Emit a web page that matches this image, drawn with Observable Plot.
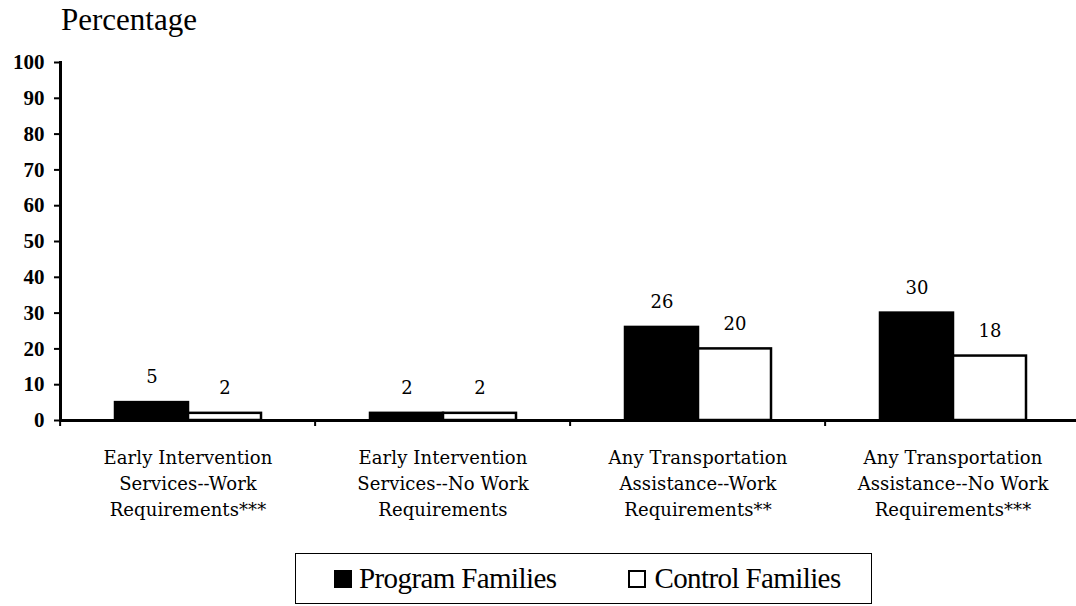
<!DOCTYPE html>
<html>
<head>
<meta charset="utf-8">
<script src="https://cdn.jsdelivr.net/npm/d3@7"></script>
<script src="https://cdn.jsdelivr.net/npm/@observablehq/plot@0.6"></script>
<style>
  html, body { margin: 0; padding: 0; background: #fff; color: #000; overflow: hidden; }
  #wrap { position: relative; width: 1076px; height: 606px; }
  #title { position: absolute; left: 61px; top: 4px; font-family: "Liberation Serif", serif; font-size: 31px; line-height: 31px; white-space: nowrap; }
  #chart { position: absolute; left: 0; top: 0; }
  #legend { position: absolute; left: 295px; top: 553px; width: 575px; height: 49px; border: 1.5px solid #000;
            display: flex; align-items: center; font-family: "Liberation Serif", serif; font-size: 29px; letter-spacing: -0.6px; }
  .sw { width: 18px; height: 18px; box-sizing: border-box; flex: none; }
  .catlab { letter-spacing: 0.1px; }
</style>
</head>
<body>
<div id="wrap">
  <div id="chart"></div>
  <div id="title">Percentage</div>
  <div id="legend"></div>
</div>
<script>
const categories = [
  "Early Intervention\nServices--Work\nRequirements***",
  "Early Intervention\nServices--No Work\nRequirements",
  "Any Transportation\nAssistance--Work\nRequirements**",
  "Any Transportation\nAssistance--No Work\nRequirements***"
];
const series = ["Program Families", "Control Families"];
const program = [5, 2, 26, 30];
const control = [2, 2, 20, 18];
const yTicks = [0, 10, 20, 30, 40, 50, 60, 70, 80, 90, 100];
const seriesColors = ["#000000", "#ffffff"];

const rows = [];
categories.forEach((c, i) => {
  rows.push({category: c, series: series[0], value: program[i]});
  rows.push({category: c, series: series[1], value: control[i]});
});

const fxRange = [58, 1081];
const band = (fxRange[1] - fxRange[0]) / categories.length;

const chart = Plot.plot({
  width: 1076,
  height: 530,
  marginTop: 62,
  marginBottom: 110,
  marginLeft: 58,
  marginRight: 0,
  style: {fontFamily: "Liberation Serif, serif", fontSize: "20px", background: "white", color: "black"},
  fx: {domain: categories, range: fxRange, padding: 0, label: null},
  x: {domain: series, paddingInner: 0, paddingOuter: 0.74, axis: null},
  y: {domain: [0, 100], label: null},
  color: {domain: series, range: seriesColors},
  marks: [
    Plot.barY(rows, {fx: "category", x: "series", y: "value", fill: "series", stroke: "black", strokeWidth: 2.5}),
    Plot.ruleY([0], {stroke: "black", strokeWidth: 3}),
    Plot.frame({anchor: "left", facetAnchor: "left", stroke: "black", strokeWidth: 3}),
    Plot.axisY({ticks: yTicks, tickSize: 6, tickPadding: 10, strokeWidth: 2, fontSize: 21, fontWeight: "bold",
      fontFamily: "Liberation Serif, serif", label: null}),
    Plot.axisFx({anchor: "bottom", tickSize: 6, strokeWidth: 2, fill: "none", label: null, dx: -band / 2}),
    Plot.text(rows, {fx: "category", x: "series", y: "value", text: d => String(d.value), dy: -25,
      fontFamily: "DejaVu Serif, serif", fontSize: 18, fill: "black"}),
    Plot.text(categories, {fx: d => d, text: d => d, frameAnchor: "bottom", lineAnchor: "top", dy: 25,
      lineHeight: 26 / 18, fontFamily: "DejaVu Serif, serif", fontSize: 18, fill: "black", className: "catlab"})
  ]
});
document.getElementById("chart").appendChild(chart);

// Legend
const legend = document.getElementById("legend");
const gaps = [{left: 38, gap: 7}, {left: 72, gap: 8}];
series.forEach((s, i) => {
  const sw = document.createElement("span");
  sw.className = "sw";
  sw.style.background = seriesColors[i];
  sw.style.border = i === 0 ? "none" : "2px solid #000";
  sw.style.marginLeft = gaps[i].left + "px";
  sw.style.marginRight = gaps[i].gap + "px";
  const t = document.createElement("span");
  t.textContent = s;
  t.style.whiteSpace = "nowrap";
  legend.appendChild(sw);
  legend.appendChild(t);
});
</script>
</body>
</html>
